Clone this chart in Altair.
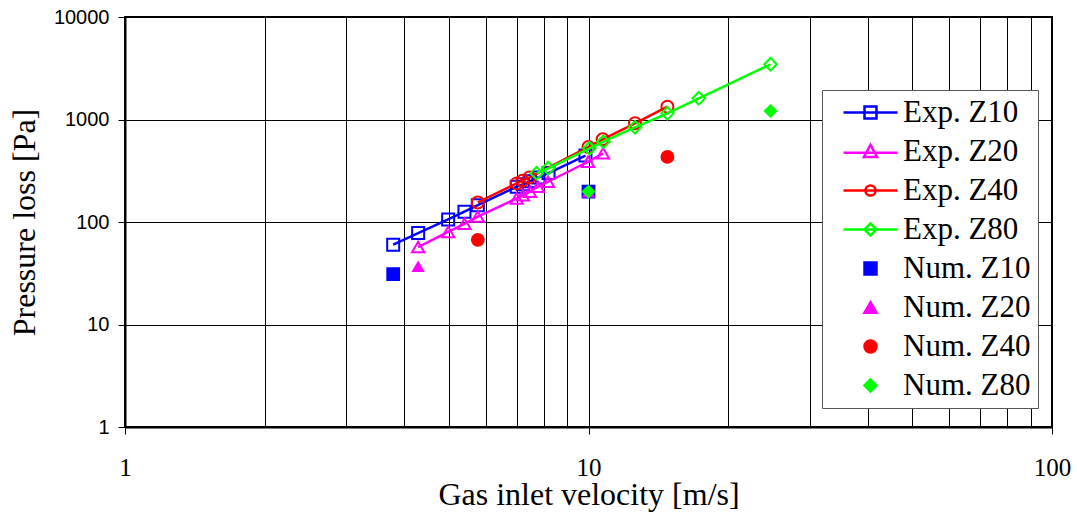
import altair as alt
import pandas as pd

# Experimental series: gas inlet velocity [m/s] and pressure loss [Pa]
exp_z10_v = [3.79, 4.29, 4.98, 5.40, 5.77, 7.00, 7.22, 7.48, 7.80, 8.20, 9.85]
exp_z10_p = [60, 78, 106, 126, 146, 221, 233, 250, 272, 300, 445]

exp_z20_v = [4.29, 4.98, 5.40, 5.77, 7.00, 7.22, 7.48, 7.78, 8.18, 9.98, 10.75]
exp_z20_p = [57, 80, 96, 113, 170, 183, 198, 221, 247, 387, 468]

exp_z40_v = [5.77, 7.00, 7.20, 7.45, 10.0, 10.73, 12.6, 14.8]
exp_z40_p = [155, 238, 253, 271, 540, 641, 918, 1334]

exp_z80_v = [7.73, 8.19, 10.05, 10.77, 12.6, 14.8, 17.3, 24.7]
exp_z80_p = [299, 334, 524, 607, 839, 1148, 1610, 3455]

# Numerical results
num_z10_v = [3.79, 10.0]
num_z10_p = [31, 198]
num_z20_v = [4.29, 10.0]
num_z20_p = [37, 198]
num_z40_v = [5.77, 14.8]
num_z40_p = [67, 431]
num_z80_v = [10.0, 24.7]
num_z80_p = [198, 1210]

labels = ["Exp. Z10", "Exp. Z20", "Exp. Z40", "Exp. Z80",
          "Num. Z10", "Num. Z20", "Num. Z40", "Num. Z80"]
colors = ["#0000FF", "#FF00FF", "#FF0000", "#00FF00"]
shapes = ["square", "triangle-up", "circle", "diamond"]

x_ticks = [1, 2, 3, 4, 5, 6, 7, 8, 9, 10, 20, 30, 40, 50, 60, 70, 80, 90, 100]
y_ticks = [1, 10, 100, 1000, 10000]

W, H = 927, 410

x_enc = alt.X(
    "v:Q",
    title="Gas inlet velocity [m/s]",
    scale=alt.Scale(type="log", domain=[1, 100]),
    axis=alt.Axis(
        values=x_ticks,
        labelExpr="datum.value == 1 || datum.value == 10 || datum.value == 100 ? datum.value + '' : ''",
        grid=True, gridColor="black", gridWidth=1, gridOpacity=1,
        domainColor="black", domainWidth=2,
        tickColor="black", tickSize=7, tickWidth=1,
        tickOpacity={"condition": {"test": "datum.value == 1 || datum.value == 10 || datum.value == 100", "value": 1}, "value": 0},
        labelFont="Liberation Serif", labelFontSize=25, labelColor="black",
        labelPadding=21, labelFlush=False, labelOverlap=False,
        titleFont="Liberation Serif", titleFontSize=32, titleFontWeight="normal",
        titleColor="black", titleBaseline="alphabetic", titleY=77,
    ),
)

y_enc = alt.Y(
    "p:Q",
    title="Pressure loss [Pa]",
    scale=alt.Scale(type="log", domain=[1, 10000]),
    axis=alt.Axis(
        values=y_ticks,
        labelExpr="datum.value + ''",
        grid=True, gridColor="black", gridWidth=1, gridOpacity=1,
        domainColor="black", domainWidth=2,
        tickColor="black", tickSize=7, tickWidth=1,
        labelFont="Liberation Sans", labelFontSize=20, labelColor="black",
        labelPadding=9, labelFlush=False, labelOverlap=False,
        titleFont="Liberation Serif", titleFontSize=32, titleFontWeight="normal",
        titleColor="black", titleAngle=270, titleBaseline="alphabetic",
        titleAlign="center", titleX=-91, titleY=205,
    ),
)

exp_sets = [(exp_z10_v, exp_z10_p), (exp_z20_v, exp_z20_p),
            (exp_z40_v, exp_z40_p), (exp_z80_v, exp_z80_p)]
num_sets = [(num_z10_v, num_z10_p), (num_z20_v, num_z20_p),
            (num_z40_v, num_z40_p), (num_z80_v, num_z80_p)]
exp_sizes = [144, 150, 144, 160]
num_sizes = [190, 180, 190, 200]

layers = []
for (v, p), c, s, sz in zip(exp_sets, colors, shapes, exp_sizes):
    df = pd.DataFrame({"v": v, "p": p})
    base = alt.Chart(df).encode(x=x_enc, y=y_enc)
    layers.append(base.mark_line(color=c, strokeWidth=2.5))
    layers.append(base.mark_point(shape=s, size=sz, filled=False, stroke=c,
                                  strokeWidth=2, opacity=1))

for (v, p), c, s, sz in zip(num_sets, colors, shapes, num_sizes):
    df = pd.DataFrame({"v": v, "p": p})
    layers.append(alt.Chart(df).mark_point(shape=s, size=sz, filled=True,
                                           fill=c, strokeWidth=0, opacity=1)
                  .encode(x=x_enc, y=y_enc))

# Legend entries: line-with-hollow-marker for experiments, filled marker for simulations
legend_shapes = [
    "M-4.5,0H4.5M-1,-1H1V1H-1Z",
    "M-4.5,0.2H4.5M0,-1.1L1.1,0.9H-1.1Z",
    "M-4.5,0H4.5M-0.85,0A0.85,0.85 0 1,0 0.85,0A0.85,0.85 0 1,0 -0.85,0Z",
    "M-4.5,0H4.5M0,-1L1,0L0,1L-1,0Z",
    "square", "triangle-up", "circle", "diamond",
]
legend_fills = ["transparent"] * 4 + colors
legend_strokes = colors + colors

leg = alt.Legend(
    title=None, orient="none", legendX=697, legendY=73,
    symbolSize=144, symbolStrokeWidth=2.5, symbolOpacity=1,
    labelFont="Liberation Serif", labelFontSize=31, labelColor="black",
    labelAlign="left", labelLimit=0, padding=7, rowPadding=7,
    symbolOffset=26, labelOffset=17,
    strokeColor="#555555", fillColor="white",
)

legend_layer = (
    alt.Chart(pd.DataFrame({"label": labels}))
    .mark_point(filled=True, opacity=1)
    .encode(
        fill=alt.Fill("label:N", scale=alt.Scale(domain=labels, range=legend_fills), legend=leg),
        stroke=alt.Stroke("label:N", scale=alt.Scale(domain=labels, range=legend_strokes), legend=leg),
        shape=alt.Shape("label:N", scale=alt.Scale(domain=labels, range=legend_shapes), legend=leg),
    )
    .transform_filter("false")
)

chart = (
    alt.layer(*layers, legend_layer)
    .properties(
        width=W, height=H,
        autosize=alt.AutoSizeParams(type="none"),
        padding={"left": 125, "top": 17, "right": 25, "bottom": 90},
        background="white",
    )
    .configure_view(stroke="black", strokeWidth=2)
)

chart.save("out.html", embed_options={"renderer": "svg", "actions": False})
